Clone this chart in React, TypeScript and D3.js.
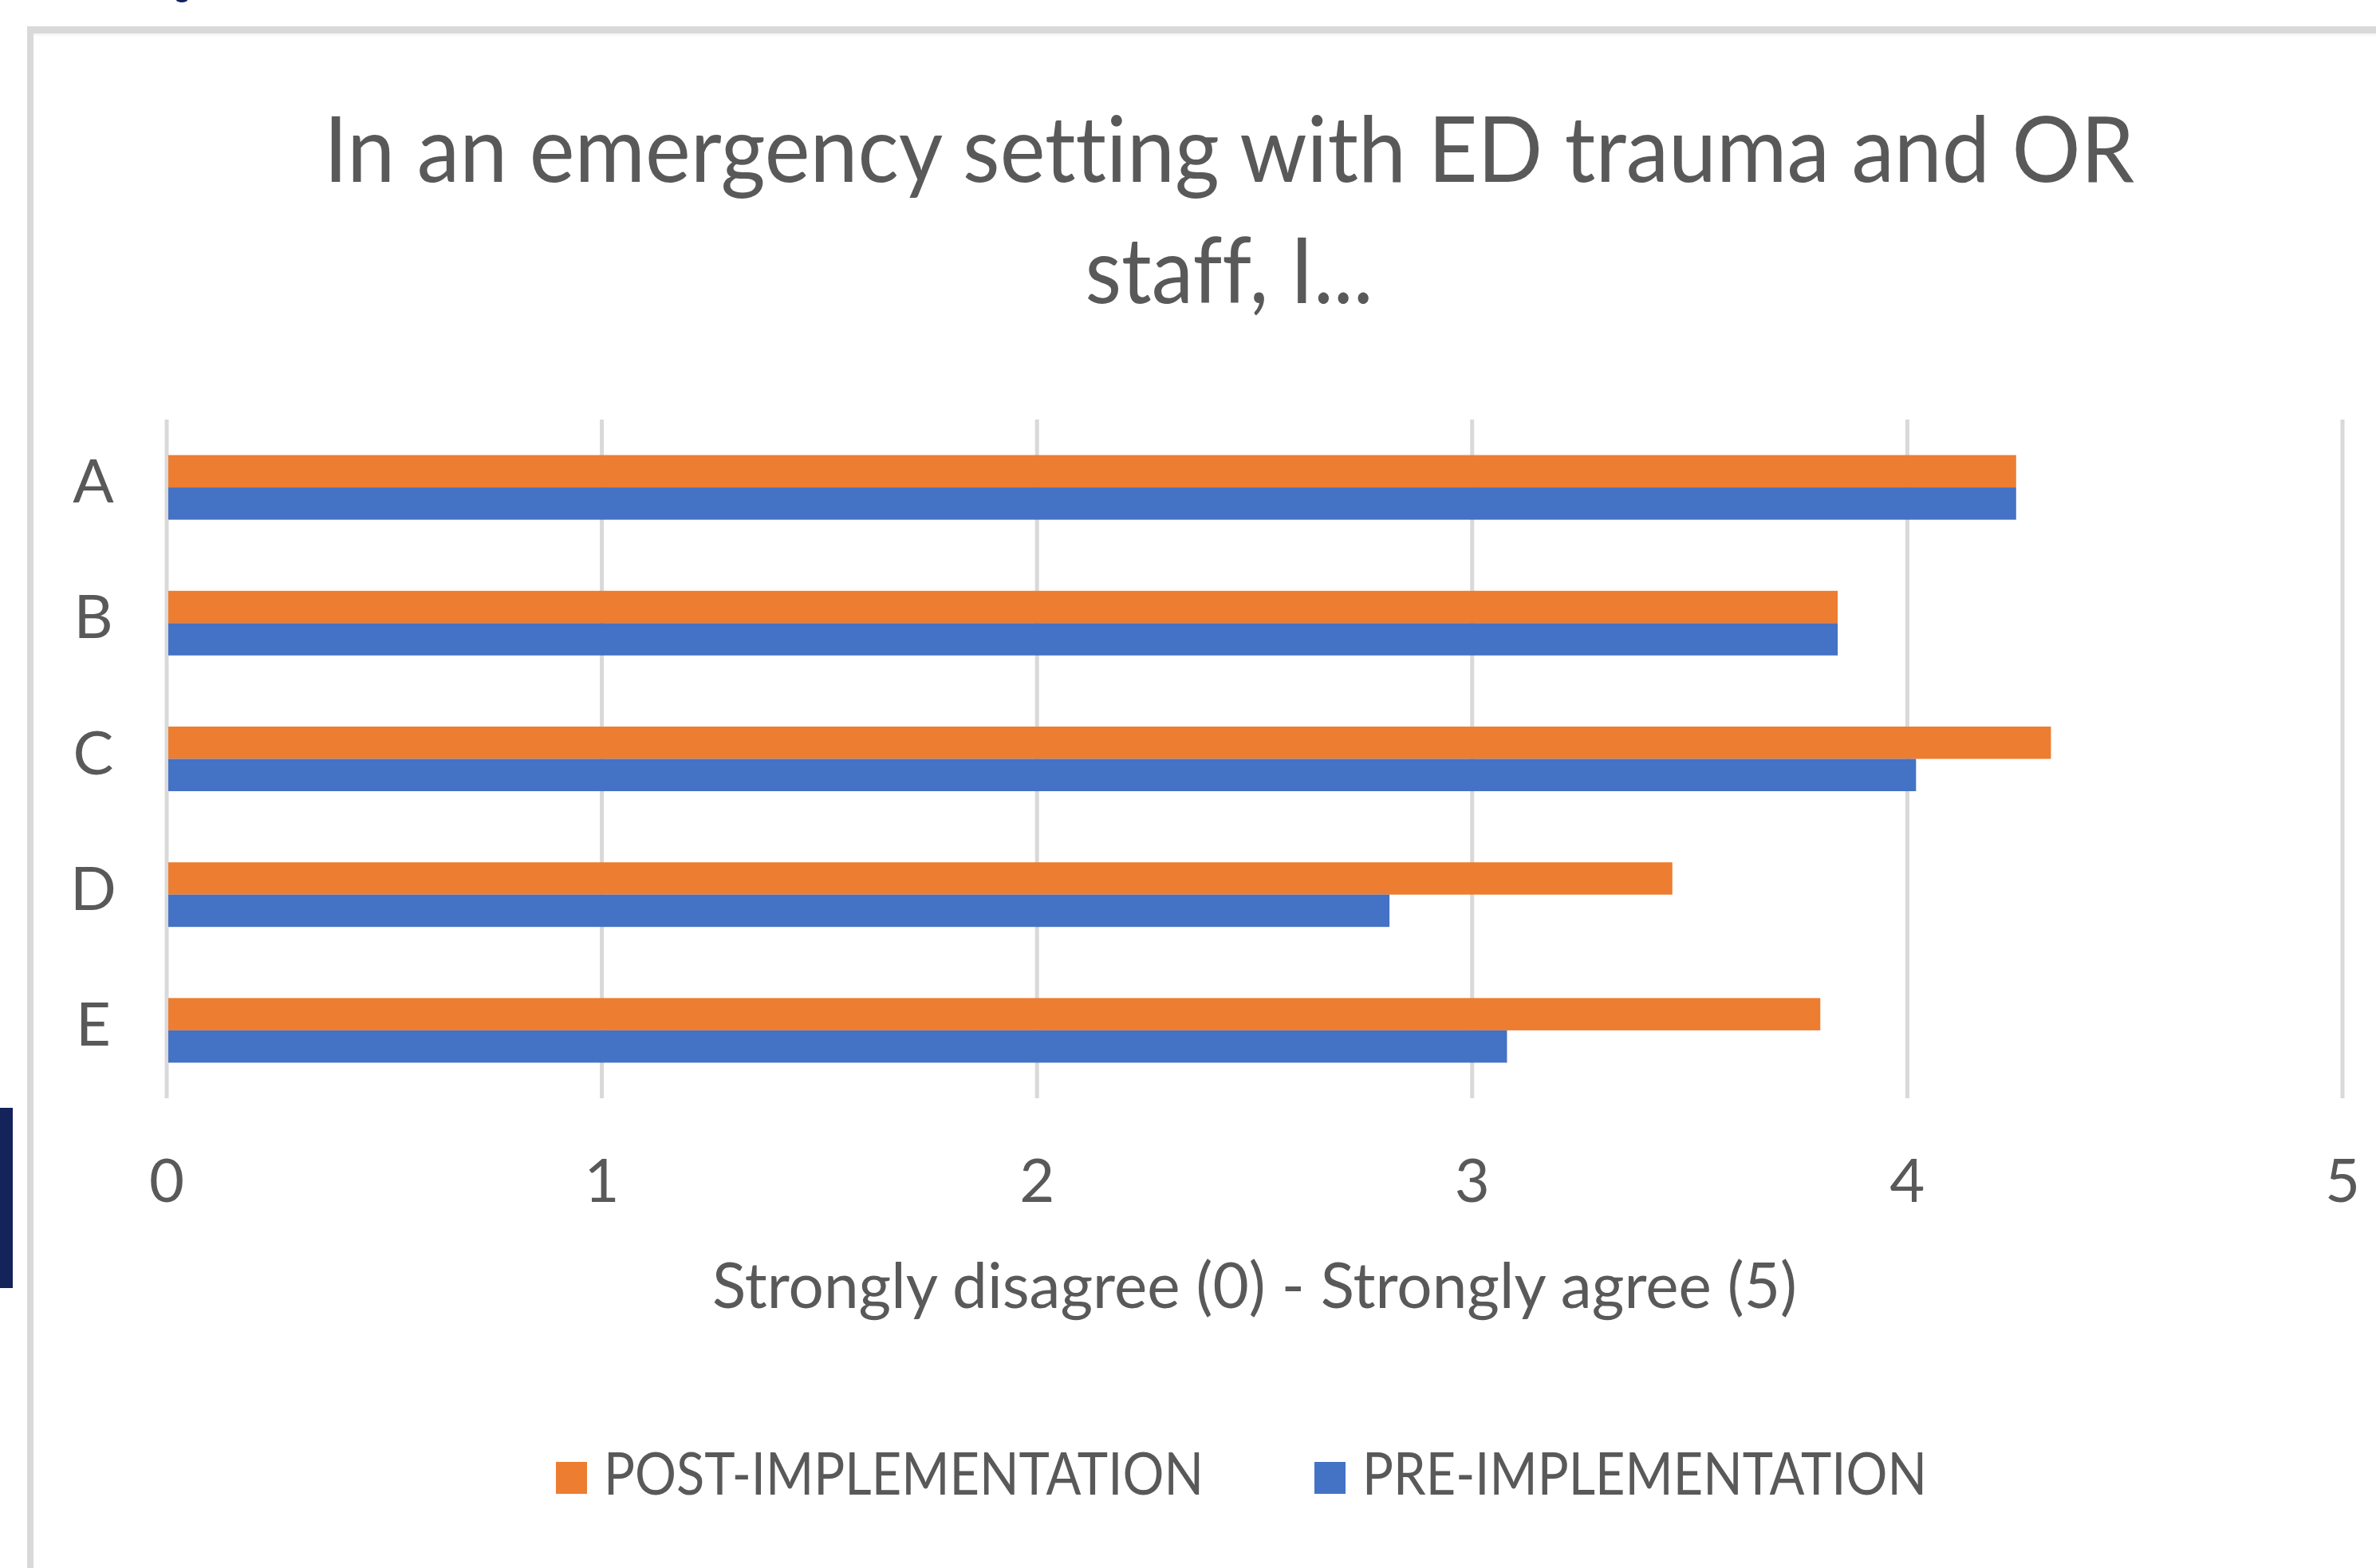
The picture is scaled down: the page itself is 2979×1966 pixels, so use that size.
import React from 'react';
import * as d3 from 'd3';

const categories = ['A', 'B', 'C', 'D', 'E'];
const seriesNames = ['POST-IMPLEMENTATION', 'PRE-IMPLEMENTATION'];
const postValues = [4.25, 3.84, 4.33, 3.46, 3.8];
const preValues = [4.25, 3.84, 4.02, 2.81, 3.08];
const xTicks = [0, 1, 2, 3, 4, 5];
const titleLines = ['In an emergency setting with ED trauma and OR', 'staff, I...'];
const axisTitle = 'Strongly disagree (0) - Strongly agree (5)';

const colors: Record<string, string> = {
  'POST-IMPLEMENTATION': '#ED7D31',
  'PRE-IMPLEMENTATION': '#4472C4',
};

const W = 2979;
const H = 1966;
const font = 'Lato, "Open Sans", sans-serif';
const textColor = '#595959';

const App: React.FC = () => {
  const x = d3.scaleLinear().domain([0, 5]).range([209, 2937]);
  const y = d3.scaleBand<string>()
    .domain(categories)
    .range([526, 1377])
    .paddingInner(0.524)
    .paddingOuter(0.262);
  const sub = d3.scaleBand<string>().domain(seriesNames).range([0, y.bandwidth()]);

  const rows = categories.map((c, i) => ({
    cat: c,
    vals: [
      { s: seriesNames[0], v: postValues[i] },
      { s: seriesNames[1], v: preValues[i] },
    ],
  }));

  return (
    <svg
      width={W}
      height={H}
      style={{ position: 'absolute', left: 0, top: 0, display: 'block', fontVariantLigatures: 'none' }}
    >
      <rect x={0} y={0} width={W} height={H} fill="#fff" />
      {/* chart frame, only top and left edge are in view */}
      <rect x={34} y={33} width={W} height={9} fill="#d9d9d9" />
      <rect x={34} y={33} width={8} height={H} fill="#d9d9d9" />
      <rect x={42} y={42} width={W} height={3} fill="#f7f7f7" />
      {/* cut-off bits from the surrounding page */}
      <rect x={0} y={1389} width={16} height={226} fill="#14235a" />
      <ellipse cx={228} cy={0} rx={7} ry={3} fill="#14235a" />

      {titleLines.map((t, i) => (
        <text
          key={t}
          x={1541}
          y={228 + i * 152}
          textAnchor="middle"
          fontFamily={font}
          fontSize={114}
          fill={textColor}
          textLength={i === 0 ? 2270 : 361}
          lengthAdjust="spacingAndGlyphs"
        >
          {t}
        </text>
      ))}

      <g>
        {xTicks.map((t) => (
          <line key={t} x1={x(t)} x2={x(t)} y1={526} y2={1377} stroke="#d9d9d9" strokeWidth={5} />
        ))}
      </g>

      <g>
        {rows.map((r) => (
          <g key={r.cat} transform={`translate(0,${y(r.cat)})`}>
            {r.vals.map((d) => (
              <rect
                key={d.s}
                x={x(0) + 2}
                y={sub(d.s)}
                width={x(d.v) - x(0) - 2}
                height={sub.bandwidth()}
                fill={colors[d.s]}
              />
            ))}
          </g>
        ))}
      </g>

      <g fontFamily={font} fill={textColor}>
        {categories.map((c) => (
          <text key={c} x={117} y={(y(c) as number) + y.bandwidth() / 2 + 19} textAnchor="middle" fontSize={76}>
            {c}
          </text>
        ))}
        {xTicks.map((t) => (
          <text key={t} x={x(t)} y={1507} textAnchor="middle" fontSize={76}>
            {t}
          </text>
        ))}
        <text x={1573} y={1640} textAnchor="middle" fontSize={80} textLength={1360} lengthAdjust="spacingAndGlyphs">
          {axisTitle}
        </text>
      </g>

      <g fontFamily={font} fill={textColor}>
        {seriesNames.map((s, i) => {
          const lx = i === 0 ? 697 : 1648;
          return (
            <g key={s}>
              <rect x={lx} y={1833} width={39} height={40} fill={colors[s]} />
              <text x={lx + 60} y={1874} fontSize={74} textLength={i === 0 ? 752 : 708} lengthAdjust="spacingAndGlyphs">
                {s}
              </text>
            </g>
          );
        })}
      </g>
    </svg>
  );
};

export default App;
